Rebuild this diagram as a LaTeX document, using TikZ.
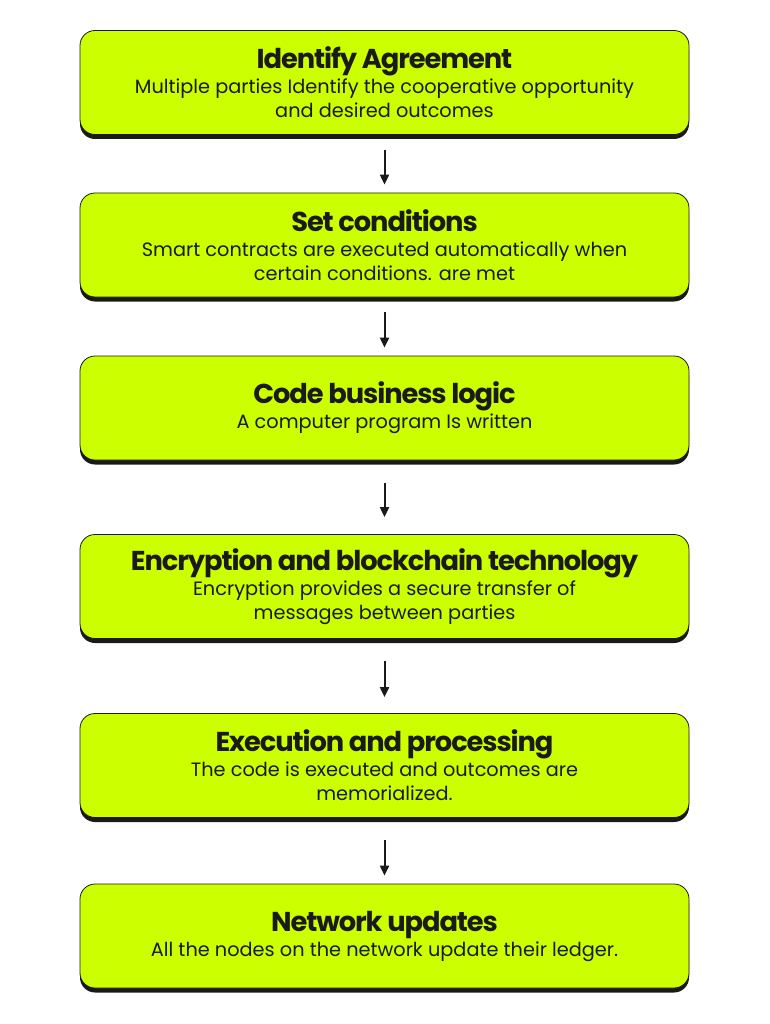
\documentclass[tikz,border=0pt]{standalone}
\usepackage{fontspec}
\setmainfont{Poppins}
\newfontfamily\headfont{Poppins}[LetterSpace=-4]
\usetikzlibrary{arrows.meta,positioning}
\definecolor{limefill}{HTML}{CCFF00}
\definecolor{inkdark}{HTML}{1A1A1A}

\begin{document}
\begin{tikzpicture}[
  x=1pt,y=1pt,
  font=\fontsize{19.3}{24}\selectfont,
  stepbox/.style={draw=inkdark,line width=0.8pt,fill=limefill,rounded corners=15pt,
    minimum width=609pt,minimum height=104pt,align=center,text=inkdark,inner sep=0pt,
    preaction={fill=inkdark,transform canvas={yshift=-4.5pt}}},
  arr/.style={-{Triangle[length=10pt,width=9pt]},line width=2pt,draw=inkdark}
]
  \useasboundingbox (0,0) rectangle (770,-1024);
  \newcommand\steptitle[1]{{\headfont\bfseries\fontsize{27.3}{30}\selectfont #1}\\[1pt]}

  \node[stepbox] (agree) at (384.5,-82.5) {\steptitle{Identify Agreement}Multiple parties Identify the cooperative opportunity\\and desired outcomes};
  \node[stepbox] (cond) at (384.5,-245) {\steptitle{Set conditions}Smart contracts are executed automatically when\\certain conditions. are met};
  \node[stepbox] (logic) at (384.5,-408) {\steptitle{Code business logic}A computer program Is written};
  \node[stepbox] (crypt) at (384.5,-586.5) {\steptitle{Encryption and blockchain technology}Encryption provides a secure transfer of\\messages between parties};
  \node[stepbox] (exec) at (384.5,-765.5) {\steptitle{Execution and processing}The code is executed and outcomes are\\memorialized.};
  \node[stepbox] (update) at (384.5,-936) {\steptitle{Network updates}All the nodes on the network update their ledger.};

  \draw[arr] ([yshift=-15pt]agree.south) -- ([yshift=8pt]cond.north);
  \draw[arr] ([yshift=-15pt]cond.south) -- ([yshift=8pt]logic.north);
  \draw[arr] ([yshift=-23pt]logic.south) -- ([yshift=17pt]crypt.north);
  \draw[arr] ([yshift=-22pt]crypt.south) -- ([yshift=16pt]exec.north);
  \draw[arr] ([yshift=-22pt]exec.south) -- ([yshift=8pt]update.north);
\end{tikzpicture}
\end{document}
